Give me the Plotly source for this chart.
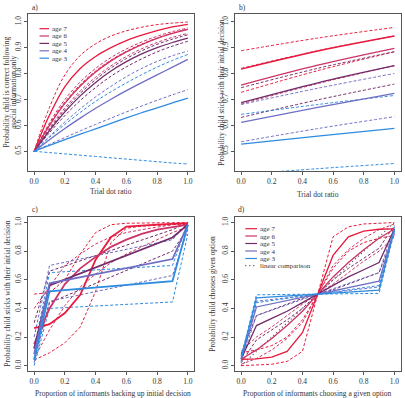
import plotly.graph_objects as go

W, H = 405, 398
FONT = "Liberation Serif"
TXT = "#333333"
AX = "#555555"

ages = ["age 7", "age 6", "age 5", "age 4", "age 3"]
colors = ["#E8193C", "#CC3366", "#722B6B", "#6E6EC4", "#2D8BE0"]

# ---------------- panel a: correct following asocial info ----------------
a_x = [0, 0.1, 0.2, 0.3, 0.4, 0.5, 0.6, 0.7, 0.8, 0.9, 1.0]
a7_fit = [0.5, 0.64, 0.75, 0.82, 0.866, 0.9, 0.927, 0.948, 0.966, 0.98, 0.99]
a7_hi = [0.5, 0.67, 0.795, 0.87, 0.915, 0.945, 0.965, 0.979, 0.989, 0.995, 0.999]
a7_lo = [0.5, 0.605, 0.69, 0.757, 0.81, 0.852, 0.886, 0.914, 0.937, 0.956, 0.972]
a6_fit = [0.5, 0.6, 0.685, 0.752, 0.806, 0.849, 0.884, 0.912, 0.936, 0.955, 0.971]
a6_hi = [0.5, 0.61, 0.70, 0.768, 0.82, 0.862, 0.895, 0.922, 0.944, 0.962, 0.976]
a6_lo = [0.5, 0.59, 0.668, 0.733, 0.786, 0.83, 0.866, 0.896, 0.92, 0.94, 0.955]
a5_fit = [0.5, 0.58, 0.652, 0.714, 0.766, 0.81, 0.846, 0.876, 0.9, 0.92, 0.937]
a5_hi = [0.5, 0.585, 0.66, 0.724, 0.777, 0.822, 0.858, 0.888, 0.913, 0.933, 0.95]
a5_lo = [0.5, 0.572, 0.638, 0.696, 0.746, 0.79, 0.826, 0.857, 0.884, 0.906, 0.925]
a4_fit = [0.5, 0.545, 0.588, 0.628, 0.666, 0.701, 0.734, 0.765, 0.795, 0.825, 0.855]
a4_hi = [0.5, 0.558, 0.613, 0.664, 0.71, 0.751, 0.788, 0.82, 0.847, 0.869, 0.887]
a4_lo = [0.5, 0.527, 0.553, 0.579, 0.604, 0.628, 0.652, 0.675, 0.697, 0.718, 0.738]
a3_fit = [0.5, 0.523, 0.545, 0.566, 0.587, 0.608, 0.629, 0.649, 0.668, 0.687, 0.705]
a3_hi = [0.5, 0.554, 0.604, 0.65, 0.693, 0.73, 0.764, 0.796, 0.825, 0.851, 0.874]
a3_lo = [0.5, 0.495, 0.49, 0.485, 0.48, 0.475, 0.47, 0.465, 0.46, 0.455, 0.451]

# ---------------- panel b: sticks with initial decision vs dot ratio ----------------
b_x = [0, 0.5, 1.0]
b7_fit = [0.817, 0.887, 0.945]
b7_hi = [0.888, 0.937, 0.978]
b7_lo = [0.727, 0.811, 0.884]
b6_fit = [0.755, 0.832, 0.897]
b6_hi = [0.82, 0.888, 0.945]
b6_lo = [0.682, 0.761, 0.83]
b5_fit = [0.687, 0.764, 0.83]
b5_hi = [0.745, 0.82, 0.884]
b5_lo = [0.63, 0.698, 0.759]
b4_fit = [0.611, 0.669, 0.723]
b4_hi = [0.68, 0.743, 0.80]
b4_lo = [0.536, 0.587, 0.633]
b3_fit = [0.527, 0.558, 0.588]
b3_hi = [0.642, 0.68, 0.715]
b3_lo = [0.41, 0.432, 0.452]

# ---------------- panel c: sticks with decision vs informants backing ----------------
c_x_full = [0, 0.1, 0.2, 0.3, 0.4, 0.5, 0.6, 0.7, 0.8, 0.9, 1.0]
c_x_step = [0, 0.1, 0.9, 1.0]
c7_fit = [0.263, 0.29, 0.368, 0.495, 0.74, 0.898, 0.972, 0.98, 0.985, 0.99, 0.995]
c7_hi = [0.5, 0.51, 0.60, 0.78, 0.93, 0.985, 0.995, 0.998, 0.999, 0.999, 1.0]
c7_lo = [0.04, 0.09, 0.16, 0.27, 0.52, 0.86, 0.96, 0.975, 0.98, 0.985, 0.99]
c6_fit = [0.15, 0.40, 0.57, 0.68, 0.76, 0.83, 0.88, 0.92, 0.95, 0.97, 0.985]
c6_hi = [0.40, 0.55, 0.70, 0.78, 0.85, 0.90, 0.93, 0.95, 0.97, 0.985, 0.995]
c6_lo = [0.05, 0.25, 0.42, 0.55, 0.64, 0.72, 0.78, 0.83, 0.88, 0.93, 0.97]
c5_fit = [0.12, 0.56, 0.895, 0.985]
c5_hi = [0.3, 0.66, 0.95, 1.0]
c5_lo = [0.05, 0.44, 0.80, 0.96]
c4_fit = [0.08, 0.575, 0.745, 0.985]
c4_hi = [0.2, 0.70, 0.88, 1.0]
c4_lo = [0.02, 0.45, 0.63, 0.95]
c3_fit = [0.04, 0.52, 0.59, 0.985]
c3_hi = [0.12, 0.65, 0.70, 1.0]
c3_lo = [0.0, 0.40, 0.445, 0.92]

# ---------------- panel d: chooses given option ----------------
d_x_full = [0, 0.1, 0.2, 0.3, 0.4, 0.5, 0.6, 0.7, 0.8, 0.9, 1.0]
d_x_step = [0, 0.1, 0.5, 0.9, 1.0]
d7_fit = [0.045, 0.047, 0.06, 0.10, 0.23, 0.5, 0.77, 0.90, 0.94, 0.953, 0.955]
d7_hi = [0.09, 0.11, 0.14, 0.2, 0.32, 0.5, 0.9, 0.97, 0.99, 0.997, 1.0]
d7_lo = [0.0, 0.003, 0.01, 0.03, 0.1, 0.5, 0.68, 0.80, 0.86, 0.89, 0.91]
d6_fit = [0.045, 0.11, 0.19, 0.28, 0.38, 0.5, 0.62, 0.72, 0.81, 0.89, 0.955]
d6_hi = [0.1, 0.2, 0.27, 0.35, 0.43, 0.5, 0.7, 0.81, 0.89, 0.95, 0.99]
d6_lo = [0.01, 0.05, 0.11, 0.19, 0.3, 0.5, 0.57, 0.65, 0.73, 0.8, 0.9]
d5_fit = [0.045, 0.28, 0.33, 0.38, 0.44, 0.5, 0.56, 0.62, 0.67, 0.72, 0.955]
d5_hi = [0.08, 0.35, 0.39, 0.43, 0.47, 0.5, 0.6, 0.68, 0.75, 0.82, 0.98]
d5_lo = [0.02, 0.18, 0.25, 0.32, 0.4, 0.5, 0.53, 0.57, 0.61, 0.65, 0.92]
d4_fit = [0.045, 0.41, 0.5, 0.59, 0.955]
d4_hi = [0.07, 0.45, 0.5, 0.65, 0.97]
d4_lo = [0.03, 0.35, 0.5, 0.55, 0.93]
d3_fit = [0.045, 0.473, 0.5, 0.527, 0.955]
d3_hi = [0.06, 0.495, 0.5, 0.56, 0.97]
d3_lo = [0.03, 0.44, 0.5, 0.505, 0.94]
lin_x = [0, 1]
lin_y = [0, 1]

x_ticks = [0, 0.2, 0.4, 0.6, 0.8, 1.0]
x_ticktext = ["0.0", "0.2", "0.4", "0.6", "0.8", "1.0"]
y_ticks_ab = [0.5, 0.6, 0.7, 0.8, 0.9, 1.0]
y_ticktext_ab = ["0.5", "0.6", "0.7", "0.8", "0.9", "1.0"]
y_ticks_cd = [0, 0.2, 0.4, 0.6, 0.8, 1.0]
y_ticktext_cd = ["0.0", "0.2", "0.4", "0.6", "0.8", "1.0"]

DASH = "3px,2px"

fig = go.Figure()


def add_panel(xa, ya, xs_list, fits, his, los, width, shape="linear"):
    for i in range(5):
        xs = xs_list[i]
        for ys in (his[i], los[i]):
            fig.add_trace(go.Scatter(x=xs, y=ys, mode="lines", xaxis=xa, yaxis=ya,
                                     line=dict(color=colors[i], width=1, dash=DASH, shape=shape),
                                     showlegend=False, hoverinfo="skip"))
    for i in range(5):
        fig.add_trace(go.Scatter(x=xs_list[i], y=fits[i], mode="lines", xaxis=xa, yaxis=ya,
                                 line=dict(color=colors[i], width=width, shape=shape),
                                 showlegend=False, hoverinfo="skip"))


add_panel("x", "y", [a_x] * 5,
          [a7_fit, a6_fit, a5_fit, a4_fit, a3_fit],
          [a7_hi, a6_hi, a5_hi, a4_hi, a3_hi],
          [a7_lo, a6_lo, a5_lo, a4_lo, a3_lo], 1.3, "spline")
add_panel("x2", "y2", [b_x] * 5,
          [b7_fit, b6_fit, b5_fit, b4_fit, b3_fit],
          [b7_hi, b6_hi, b5_hi, b4_hi, b3_hi],
          [b7_lo, b6_lo, b5_lo, b4_lo, b3_lo], 1.3, "spline")
add_panel("x3", "y3", [c_x_full, c_x_full, c_x_step, c_x_step, c_x_step],
          [c7_fit, c6_fit, c5_fit, c4_fit, c3_fit],
          [c7_hi, c6_hi, c5_hi, c4_hi, c3_hi],
          [c7_lo, c6_lo, c5_lo, c4_lo, c3_lo], 1.8)
fig.add_trace(go.Scatter(x=lin_x, y=lin_y, mode="lines", xaxis="x4", yaxis="y4",
                         line=dict(color="#444444", width=1.2, dash="1px,3px"),
                         showlegend=False, hoverinfo="skip"))
add_panel("x4", "y4", [d_x_full, d_x_full, d_x_full, d_x_step, d_x_step],
          [d7_fit, d6_fit, d5_fit, d4_fit, d3_fit],
          [d7_hi, d6_hi, d5_hi, d4_hi, d3_hi],
          [d7_lo, d6_lo, d5_lo, d4_lo, d3_lo], 1.3)


def pxx(v):
    return v / W


def pxy(v):
    return 1 - v / H


common = dict(showline=True, mirror=True, linecolor=AX, linewidth=1, ticks="outside",
              ticklen=3, tickcolor=AX, tickwidth=1, showgrid=False, zeroline=False,
              tickfont=dict(family=FONT, size=7.5, color=TXT), fixedrange=True)

LEFT_DOM = [pxx(28), pxx(194)]
RIGHT_DOM = [pxx(235), pxx(400.5)]
TOP_DOM = [pxy(171), pxy(14)]
BOT_DOM = [pxy(371.4), pxy(216.8)]

fig.update_layout(
    width=W, height=H, margin=dict(l=0, r=0, t=0, b=0),
    paper_bgcolor="white", plot_bgcolor="white", showlegend=False,
    xaxis=dict(domain=LEFT_DOM, anchor="y", range=[-0.04, 1.04], tickvals=x_ticks, ticktext=x_ticktext, **common),
    yaxis=dict(domain=TOP_DOM, anchor="x", range=[0.424, 1.03], tickvals=y_ticks_ab, ticktext=y_ticktext_ab, tickangle=-90, **common),
    xaxis2=dict(domain=RIGHT_DOM, anchor="y2", range=[-0.04, 1.04], tickvals=x_ticks, ticktext=x_ticktext, **common),
    yaxis2=dict(domain=TOP_DOM, anchor="x2", range=[0.423, 1.03], tickvals=y_ticks_ab, ticktext=y_ticktext_ab, tickangle=-90, **common),
    xaxis3=dict(domain=LEFT_DOM, anchor="y3", range=[-0.04, 1.04], tickvals=x_ticks, ticktext=x_ticktext, **common),
    yaxis3=dict(domain=BOT_DOM, anchor="x3", range=[-0.04, 1.04], tickvals=y_ticks_cd, ticktext=y_ticktext_cd, tickangle=-90, **common),
    xaxis4=dict(domain=RIGHT_DOM, anchor="y4", range=[-0.04, 1.04], tickvals=x_ticks, ticktext=x_ticktext, **common),
    yaxis4=dict(domain=BOT_DOM, anchor="x4", range=[-0.04, 1.04], tickvals=y_ticks_cd, ticktext=y_ticktext_cd, tickangle=-90, **common),
)

anns = []
shapes = []


def txt(x, y, s, angle=0, xanchor="center", size=7.5, height=None):
    d = dict(x=pxx(x), y=pxy(y), xref="paper", yref="paper", text=s, showarrow=False,
             textangle=angle, xanchor=xanchor, yanchor="middle", borderpad=0,
             font=dict(family=FONT, size=size, color=TXT))
    if height is not None:
        d["height"] = height
    anns.append(d)


# panel labels
txt(31, 7.5, "a)", xanchor="left")
txt(238, 7.5, "b)", xanchor="left")
txt(31, 210, "c)", xanchor="left")
txt(236.5, 210, "d)", xanchor="left")

# axis titles
txt(111, 191.7, "Trial dot ratio")
txt(317.5, 194, "Trial dot ratio")
txt(112.5, 393.8, "Proportion of informants backing up initial decision")
txt(317.5, 393.3, "Proportion of informants choosing a given option")
txt(5.5, 92, "Probability child is correct following", angle=-90)
txt(13, 92, "asocial information only", angle=-90)
txt(220.7, 93, "Probability child sticks with their initial decision", angle=-90)
txt(6.7, 294, "Probability child sticks with their initial decision", angle=-90)
txt(211.7, 294, "Probability child chooses given option", angle=-90)


def legend(x0, x1, xt, ys, labels, cols, dashes):
    for y, lab, c, d in zip(ys, labels, cols, dashes):
        shapes.append(dict(type="line", xref="paper", yref="paper", x0=pxx(x0), x1=pxx(x1),
                           y0=pxy(y), y1=pxy(y), line=dict(color=c, width=1.2, dash=d)))
        txt(xt, y, lab, xanchor="left", size=7, height=7.2)


legend(39.5, 49, 51, [28.7, 36, 43.4, 50.8, 58.2], ages, colors, ["solid"] * 5)
legend(245.3, 257, 259.3, [228.7, 236, 243.5, 251, 258.5, 265.6],
       ages + ["linear comparison"], colors + ["#444444"], ["solid"] * 5 + ["1px,3px"])

fig.update_layout(annotations=anns, shapes=shapes)
fig.write_html("out.html")
